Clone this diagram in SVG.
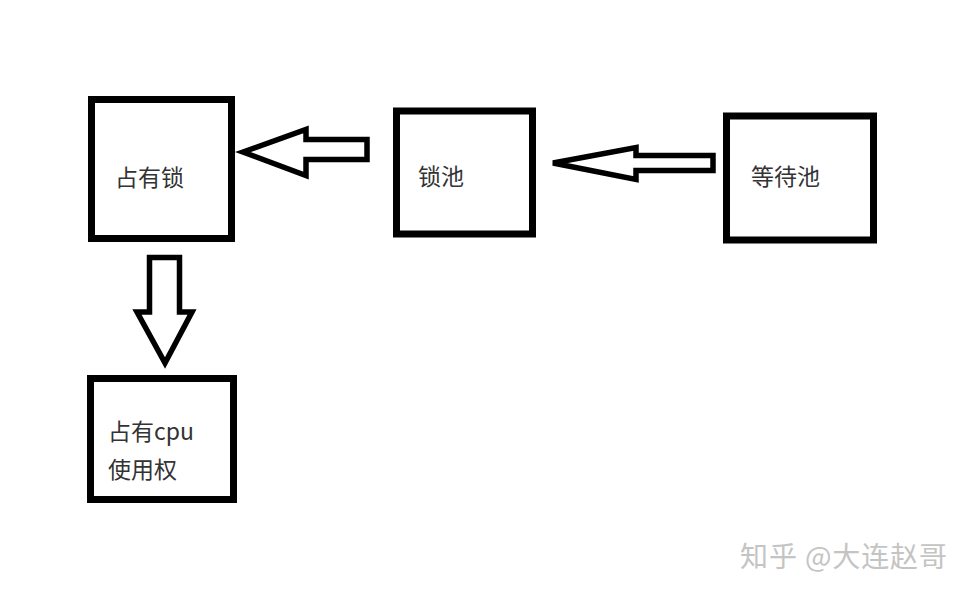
<svg xmlns="http://www.w3.org/2000/svg" width="973" height="599" viewBox="0 0 973 599">
<style>
.box{fill:#fff;stroke:#000;stroke-width:7}
.arr{fill:#fff;stroke:#000;stroke-width:5.5;stroke-linejoin:miter}
.lbl{font-family:"Noto Sans CJK SC","Noto Sans",sans-serif;font-size:23px;fill:#333}
.wm{font-family:"Noto Sans CJK SC","Noto Sans",sans-serif;font-size:28px;fill:#c4c4c4}
</style>
<rect width="973" height="599" fill="#fff"/>
<g id="connectors">
<polygon class="arr" points="243,152 306,129.5 306,139.5 367,139.5 367,159.5 306,159.5 306,175.5"/>
<polygon class="arr" points="553,163 636,147.5 636,155.5 713,155.5 713,170.5 636,170.5 636,179.5"/>
<polygon class="arr" points="149.5,257.5 179.5,257.5 179.5,312 192,312 165,363 137,312 149.5,312"/>
</g>
<g id="node-lock">
<rect class="box" x="91.5" y="99.5" width="140" height="139"/>
<text class="lbl" x="115" y="186">占有锁</text>
</g>
<g id="node-lockpool">
<rect class="box" x="396.5" y="111" width="136" height="123"/>
<text class="lbl" x="418" y="185">锁池</text>
</g>
<g id="node-waitpool">
<rect class="box" x="726.5" y="116" width="147" height="124"/>
<text class="lbl" x="751" y="185">等待池</text>
</g>
<g id="node-cpu">
<rect class="box" x="90.5" y="378.5" width="143" height="121"/>
<text class="lbl" x="108" y="440">占有cpu</text>
<text class="lbl" x="108" y="478">使用权</text>
</g>
<text class="wm" x="740" y="567" textLength="207" lengthAdjust="spacing">知乎 @大连赵哥</text>
</svg>
